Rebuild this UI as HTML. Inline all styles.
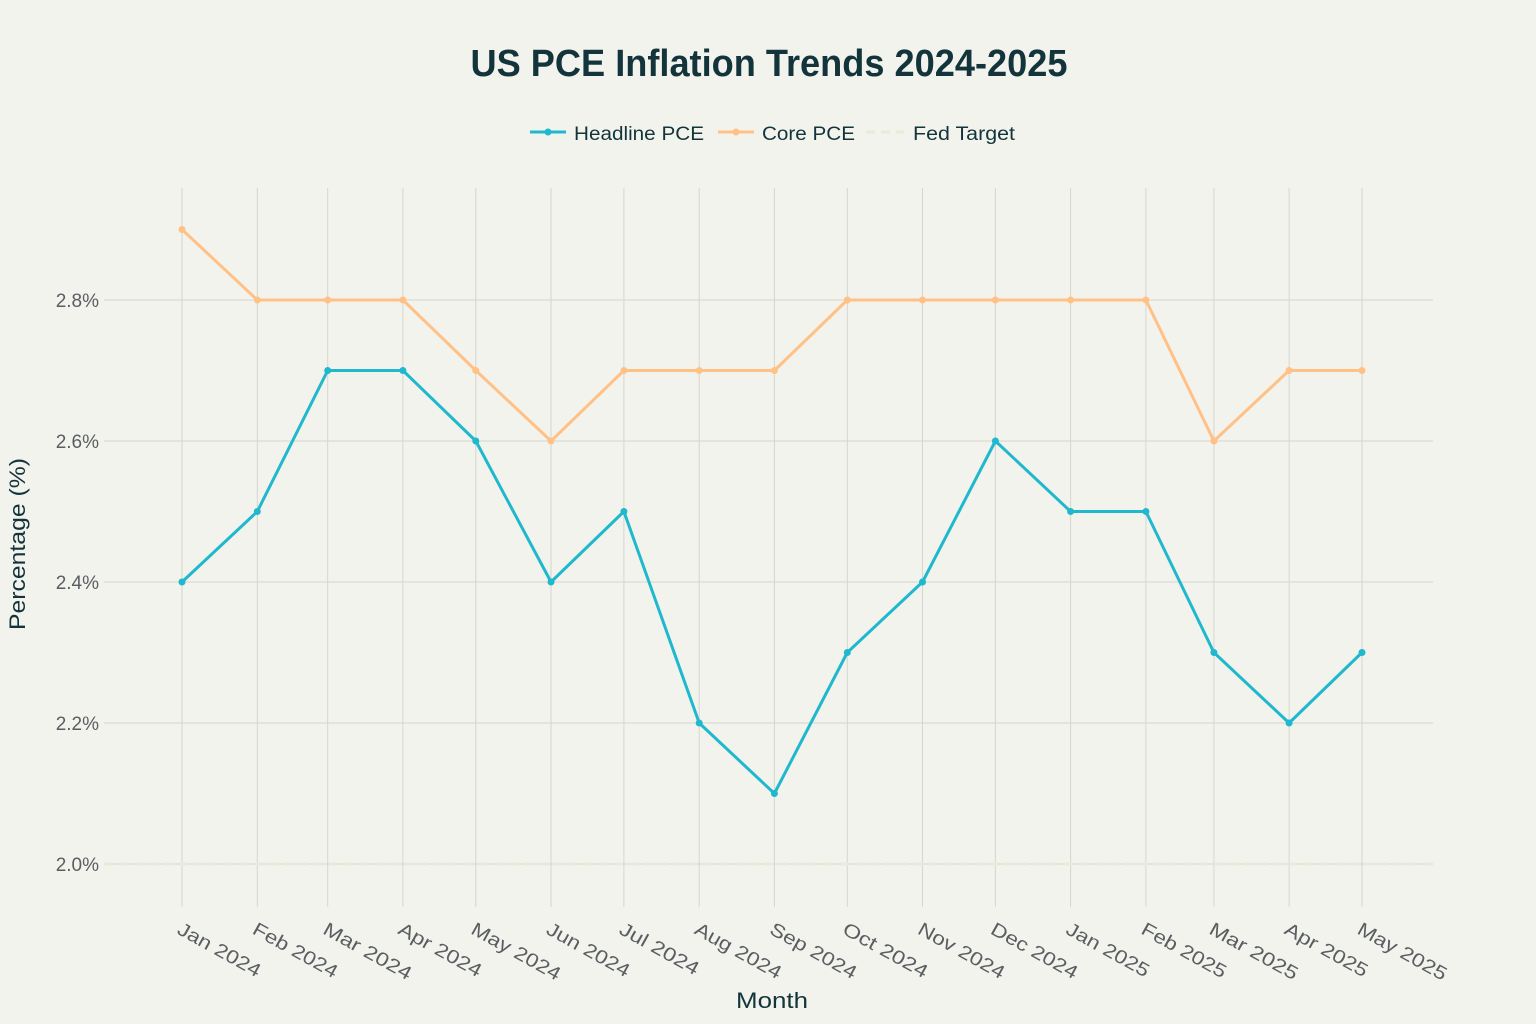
<!DOCTYPE html>
<html>
<head>
<meta charset="utf-8">
<style>
html,body{margin:0;padding:0;background:#f3f3ee;}
svg{display:block;}
text{font-family:"Liberation Sans",sans-serif;}
</style>
</head>
<body>
<svg width="1536" height="1024" viewBox="0 0 1536 1024" xmlns="http://www.w3.org/2000/svg">
<rect width="1536" height="1024" fill="#f3f3ee"/>
<!-- title -->
<text x="769" y="76" text-anchor="middle" font-size="38" font-weight="bold" fill="#13343b" textLength="597" lengthAdjust="spacingAndGlyphs">US PCE Inflation Trends 2024-2025</text>
<!-- legend -->
<g>
<line x1="530" y1="132" x2="566" y2="132" stroke="#1fb8cd" stroke-width="3"/>
<circle cx="548" cy="132" r="3.5" fill="#1fb8cd"/>
<text x="574" y="140" font-size="19" fill="#13343b" textLength="130" lengthAdjust="spacingAndGlyphs">Headline PCE</text>
<line x1="718" y1="132" x2="754" y2="132" stroke="#ffc185" stroke-width="3"/>
<circle cx="736" cy="132" r="3.5" fill="#ffc185"/>
<text x="762" y="140" font-size="19" fill="#13343b" textLength="93" lengthAdjust="spacingAndGlyphs">Core PCE</text>
<line x1="866" y1="132" x2="904" y2="132" stroke="#ebead8" stroke-width="3" stroke-dasharray="9,6"/>
<text x="913" y="140" font-size="19" fill="#13343b" textLength="102" lengthAdjust="spacingAndGlyphs">Fed Target</text>
</g>
<!-- grid -->
<g stroke="#d6d6d0" stroke-width="1">
<line x1="104" y1="300" x2="1433" y2="300"/>
<line x1="104" y1="441" x2="1433" y2="441"/>
<line x1="104" y1="582" x2="1433" y2="582"/>
<line x1="104" y1="723" x2="1433" y2="723"/>
<line x1="104" y1="864" x2="1433" y2="864"/>
<line x1="182" y1="188" x2="182" y2="907"/>
<line x1="257.3" y1="188" x2="257.3" y2="907"/>
<line x1="327.7" y1="188" x2="327.7" y2="907"/>
<line x1="402.9" y1="188" x2="402.9" y2="907"/>
<line x1="475.8" y1="188" x2="475.8" y2="907"/>
<line x1="551" y1="188" x2="551" y2="907"/>
<line x1="623.9" y1="188" x2="623.9" y2="907"/>
<line x1="699.2" y1="188" x2="699.2" y2="907"/>
<line x1="774.4" y1="188" x2="774.4" y2="907"/>
<line x1="847.3" y1="188" x2="847.3" y2="907"/>
<line x1="922.5" y1="188" x2="922.5" y2="907"/>
<line x1="995.4" y1="188" x2="995.4" y2="907"/>
<line x1="1070.6" y1="188" x2="1070.6" y2="907"/>
<line x1="1145.9" y1="188" x2="1145.9" y2="907"/>
<line x1="1213.9" y1="188" x2="1213.9" y2="907"/>
<line x1="1289.1" y1="188" x2="1289.1" y2="907"/>
<line x1="1362" y1="188" x2="1362" y2="907"/>
</g>
<!-- fed target -->
<line x1="104" y1="864" x2="1433" y2="864" stroke="#ebead8" stroke-width="3" stroke-dasharray="9,6"/>
<!-- y tick labels -->
<g font-size="19" fill="#5a5e61" text-anchor="end">
<text x="99" y="307">2.8%</text>
<text x="99" y="448">2.6%</text>
<text x="99" y="589">2.4%</text>
<text x="99" y="730">2.2%</text>
<text x="99" y="871">2.0%</text>
</g>
<!-- y title -->
<text transform="translate(25,544) rotate(-90)" text-anchor="middle" font-size="22" fill="#13343b" textLength="172" lengthAdjust="spacingAndGlyphs">Percentage (%)</text>
<!-- x title -->
<text x="772" y="1008" text-anchor="middle" font-size="22" fill="#13343b" textLength="72" lengthAdjust="spacingAndGlyphs">Month</text>
<!-- x tick labels -->
<g font-size="19" fill="#5a5e61">
<text transform="translate(176,933) rotate(29)" textLength="92" lengthAdjust="spacingAndGlyphs">Jan 2024</text>
<text transform="translate(251.3,933) rotate(29)" textLength="94" lengthAdjust="spacingAndGlyphs">Feb 2024</text>
<text transform="translate(321.7,933) rotate(29)" textLength="98" lengthAdjust="spacingAndGlyphs">Mar 2024</text>
<text transform="translate(396.9,933) rotate(29)" textLength="92" lengthAdjust="spacingAndGlyphs">Apr 2024</text>
<text transform="translate(469.8,933) rotate(29)" textLength="99" lengthAdjust="spacingAndGlyphs">May 2024</text>
<text transform="translate(545,933) rotate(29)" textLength="92" lengthAdjust="spacingAndGlyphs">Jun 2024</text>
<text transform="translate(617.9,933) rotate(29)" textLength="88" lengthAdjust="spacingAndGlyphs">Jul 2024</text>
<text transform="translate(693.2,933) rotate(29)" textLength="96" lengthAdjust="spacingAndGlyphs">Aug 2024</text>
<text transform="translate(768.4,933) rotate(29)" textLength="96" lengthAdjust="spacingAndGlyphs">Sep 2024</text>
<text transform="translate(841.3,933) rotate(29)" textLength="94" lengthAdjust="spacingAndGlyphs">Oct 2024</text>
<text transform="translate(916.5,933) rotate(29)" textLength="96" lengthAdjust="spacingAndGlyphs">Nov 2024</text>
<text transform="translate(989.4,933) rotate(29)" textLength="96" lengthAdjust="spacingAndGlyphs">Dec 2024</text>
<text transform="translate(1064.6,933) rotate(29)" textLength="92" lengthAdjust="spacingAndGlyphs">Jan 2025</text>
<text transform="translate(1139.9,933) rotate(29)" textLength="94" lengthAdjust="spacingAndGlyphs">Feb 2025</text>
<text transform="translate(1207.9,933) rotate(29)" textLength="98" lengthAdjust="spacingAndGlyphs">Mar 2025</text>
<text transform="translate(1283.1,933) rotate(29)" textLength="92" lengthAdjust="spacingAndGlyphs">Apr 2025</text>
<text transform="translate(1356,933) rotate(29)" textLength="99" lengthAdjust="spacingAndGlyphs">May 2025</text>
</g>
<!-- core PCE -->
<polyline fill="none" stroke="#ffc185" stroke-width="3" stroke-linejoin="round"
points="182,229.5 257.3,300 327.7,300 402.9,300 475.8,370.5 551,441 623.9,370.5 699.2,370.5 774.4,370.5 847.3,300 922.5,300 995.4,300 1070.6,300 1145.9,300 1213.9,441 1289.1,370.5 1362,370.5"/>
<g fill="#ffc185">
<circle cx="182" cy="229.5" r="3.5"/><circle cx="257.3" cy="300" r="3.5"/><circle cx="327.7" cy="300" r="3.5"/><circle cx="402.9" cy="300" r="3.5"/><circle cx="475.8" cy="370.5" r="3.5"/><circle cx="551" cy="441" r="3.5"/><circle cx="623.9" cy="370.5" r="3.5"/><circle cx="699.2" cy="370.5" r="3.5"/><circle cx="774.4" cy="370.5" r="3.5"/><circle cx="847.3" cy="300" r="3.5"/><circle cx="922.5" cy="300" r="3.5"/><circle cx="995.4" cy="300" r="3.5"/><circle cx="1070.6" cy="300" r="3.5"/><circle cx="1145.9" cy="300" r="3.5"/><circle cx="1213.9" cy="441" r="3.5"/><circle cx="1289.1" cy="370.5" r="3.5"/><circle cx="1362" cy="370.5" r="3.5"/>
</g>
<!-- headline PCE -->
<polyline fill="none" stroke="#1fb8cd" stroke-width="3" stroke-linejoin="round"
points="182,582 257.3,511.5 327.7,370.5 402.9,370.5 475.8,441 551,582 623.9,511.5 699.2,723 774.4,793.5 847.3,652.5 922.5,582 995.4,441 1070.6,511.5 1145.9,511.5 1213.9,652.5 1289.1,723 1362,652.5"/>
<g fill="#1fb8cd">
<circle cx="182" cy="582" r="3.5"/><circle cx="257.3" cy="511.5" r="3.5"/><circle cx="327.7" cy="370.5" r="3.5"/><circle cx="402.9" cy="370.5" r="3.5"/><circle cx="475.8" cy="441" r="3.5"/><circle cx="551" cy="582" r="3.5"/><circle cx="623.9" cy="511.5" r="3.5"/><circle cx="699.2" cy="723" r="3.5"/><circle cx="774.4" cy="793.5" r="3.5"/><circle cx="847.3" cy="652.5" r="3.5"/><circle cx="922.5" cy="582" r="3.5"/><circle cx="995.4" cy="441" r="3.5"/><circle cx="1070.6" cy="511.5" r="3.5"/><circle cx="1145.9" cy="511.5" r="3.5"/><circle cx="1213.9" cy="652.5" r="3.5"/><circle cx="1289.1" cy="723" r="3.5"/><circle cx="1362" cy="652.5" r="3.5"/>
</g>
</svg>
</body>
</html>
